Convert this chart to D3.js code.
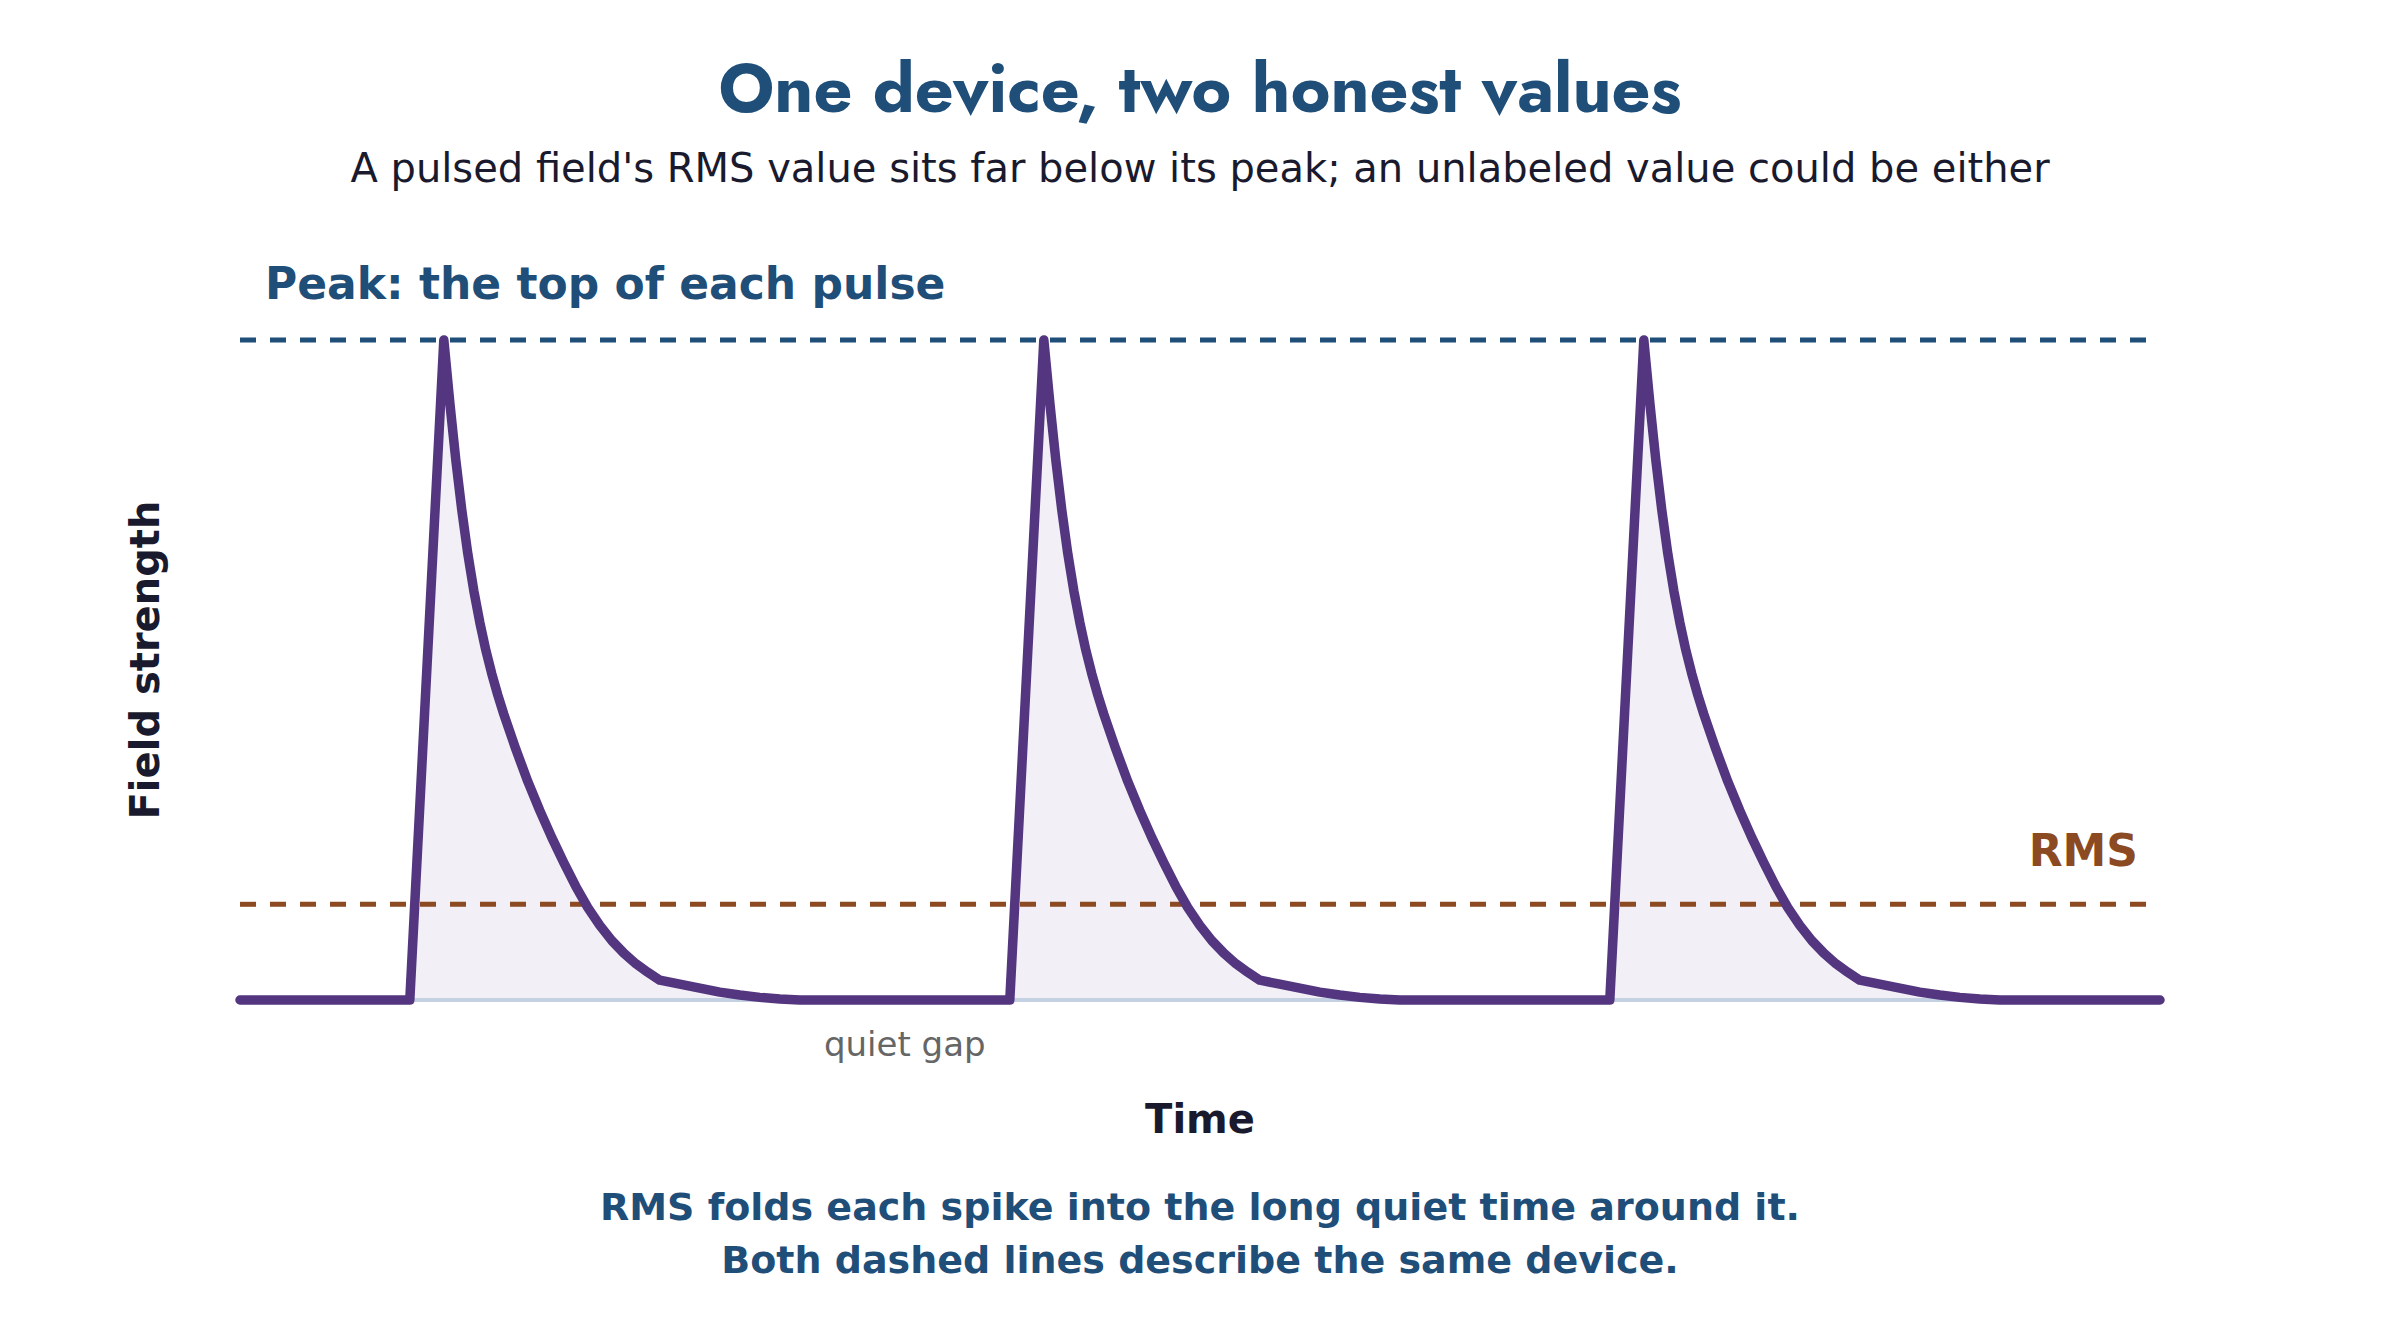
<!DOCTYPE html>
<html>
<head>
<meta charset="utf-8">
<script src="https://cdn.jsdelivr.net/npm/d3@7"></script>
<style>
  html, body { margin: 0; padding: 0; background: #fff; }
  text { font-family: "DejaVu Sans", sans-serif; }
</style>
</head>
<body>
<div id="chart-area"></div>
<script>
// time axis (ms) and the three pulse onsets
const timeDomain = [0, 32];
const pulseStarts = [2.83, 12.83, 22.83];

// one pulse: time after onset, field (fraction of peak)
const shapeTime = [
  0, 0.567, 0.667, 0.767, 0.867, 0.967, 1.067, 1.167, 1.267, 1.367, 1.467, 1.567,
  1.767, 1.967, 2.167, 2.367, 2.567, 2.767, 2.967, 3.167, 3.367, 3.567, 3.767, 3.967, 4.167,
  4.5, 4.833, 5.167, 5.5, 5.833, 6.167, 6.5
];
const shapeValue = [
  0, 1.0, 0.905, 0.818, 0.742, 0.676, 0.620, 0.572, 0.530, 0.494, 0.462, 0.433,
  0.380, 0.331, 0.287, 0.246, 0.208, 0.172, 0.140, 0.113, 0.090, 0.071, 0.055, 0.042, 0.030,
  0.024, 0.018, 0.012, 0.0075, 0.004, 0.0015, 0
];

const peakValue = 1.0;
const rmsValue = 0.145;
const quietGapTime = 11.08;

const W = 2400, H = 1320;
const margin = { top: 340, right: 240, bottom: 320, left: 240 };
const width = W - margin.left - margin.right;
const height = H - margin.top - margin.bottom;

const svg = d3.select("#chart-area")
  .append("svg")
    .attr("width", W)
    .attr("height", H);

const g = svg.append("g")
  .attr("transform", `translate(${margin.left}, ${margin.top})`);

const x = d3.scaleLinear().domain(timeDomain).range([0, width]);
const y = d3.scaleLinear().domain([0, peakValue]).range([height, 0]);

// build the signal from the pulse shape
const pulses = pulseStarts.map(s => shapeTime.map((t, i) => ({ t: s + t, v: shapeValue[i] })));
const signal = [{ t: timeDomain[0], v: 0 }]
  .concat(...pulses)
  .concat([{ t: timeDomain[1], v: 0 }]);

const area = d3.area()
  .x(d => x(d.t))
  .y0(y(0))
  .y1(d => y(d.v));

const line = d3.line()
  .x(d => x(d.t))
  .y(d => y(d.v));

// shaded pulses
g.selectAll(".pulse-fill")
  .data(pulses)
  .enter()
  .append("path")
    .attr("class", "pulse-fill")
    .attr("d", area)
    .attr("fill", "#f2eff6");

g.selectAll(".pulse-base")
  .data(pulses)
  .enter()
  .append("line")
    .attr("class", "pulse-base")
    .attr("x1", d => x(d[0].t))
    .attr("x2", d => x(d[d.length - 1].t))
    .attr("y1", y(0))
    .attr("y2", y(0))
    .attr("stroke", "#c3d1e2")
    .attr("stroke-width", 4);

// reference lines
const refs = [
  { value: peakValue, color: "#1f4e79" },
  { value: rmsValue, color: "#8b4a22" }
];

g.selectAll(".ref")
  .data(refs)
  .enter()
  .append("line")
    .attr("class", "ref")
    .attr("x1", x(timeDomain[0]))
    .attr("x2", x(timeDomain[1]))
    .attr("y1", d => y(d.value))
    .attr("y2", d => y(d.value))
    .attr("stroke", d => d.color)
    .attr("stroke-width", 5)
    .attr("stroke-dasharray", "16 14");

// the signal
g.append("path")
  .datum(signal)
  .attr("d", line)
  .attr("fill", "none")
  .attr("stroke", "#53367f")
  .attr("stroke-width", 9.5)
  .attr("stroke-linejoin", "round")
  .attr("stroke-linecap", "round");

// labels
g.append("text")
  .attr("x", 25)
  .attr("y", y(peakValue) - 41)
  .attr("font-size", "44px")
  .attr("font-weight", "bold")
  .attr("fill", "#1f4e79")
  .text("Peak: the top of each pulse");

g.append("text")
  .attr("x", width - 22)
  .attr("y", y(rmsValue) - 38)
  .attr("font-size", "44px")
  .attr("font-weight", "bold")
  .attr("text-anchor", "end")
  .attr("fill", "#8b4a22")
  .text("RMS");

g.append("text")
  .attr("x", x(quietGapTime))
  .attr("y", height + 56)
  .attr("font-size", "34px")
  .attr("text-anchor", "middle")
  .attr("fill", "#666666")
  .text("quiet gap");

g.append("text")
  .attr("x", width / 2)
  .attr("y", height + 133)
  .attr("font-size", "40px")
  .attr("font-weight", "bold")
  .attr("text-anchor", "middle")
  .attr("fill", "#1a1a2e")
  .text("Time");

g.append("text")
  .attr("transform", "rotate(-90)")
  .attr("x", -(height / 2) + 10)
  .attr("y", -81)
  .attr("font-size", "40px")
  .attr("font-weight", "bold")
  .attr("text-anchor", "middle")
  .attr("fill", "#1a1a2e")
  .text("Field strength");

// title block
svg.append("text")
  .attr("x", W / 2)
  .attr("y", 112)
  .attr("font-size", "68px")
  .attr("font-weight", "bold")
  .attr("text-anchor", "middle")
  .attr("fill", "#1f4e79")
  .style("font-family", "Futura, 'Century Gothic', Jost, Lato, sans-serif")
  .text("One device, two honest values");

svg.append("text")
  .attr("x", W / 2)
  .attr("y", 182)
  .attr("font-size", "40px")
  .attr("text-anchor", "middle")
  .attr("fill", "#1a1a2e")
  .text("A pulsed field's RMS value sits far below its peak; an unlabeled value could be either");

const footer = [
  "RMS folds each spike into the long quiet time around it.",
  "Both dashed lines describe the same device."
];

svg.selectAll(".footer")
  .data(footer)
  .enter()
  .append("text")
    .attr("class", "footer")
    .attr("x", W / 2)
    .attr("y", (d, i) => 1220 + i * 53)
    .attr("font-size", "38px")
    .attr("font-weight", "bold")
    .attr("text-anchor", "middle")
    .attr("fill", "#1f4e79")
    .text(d => d);
</script>
</body>
</html>
